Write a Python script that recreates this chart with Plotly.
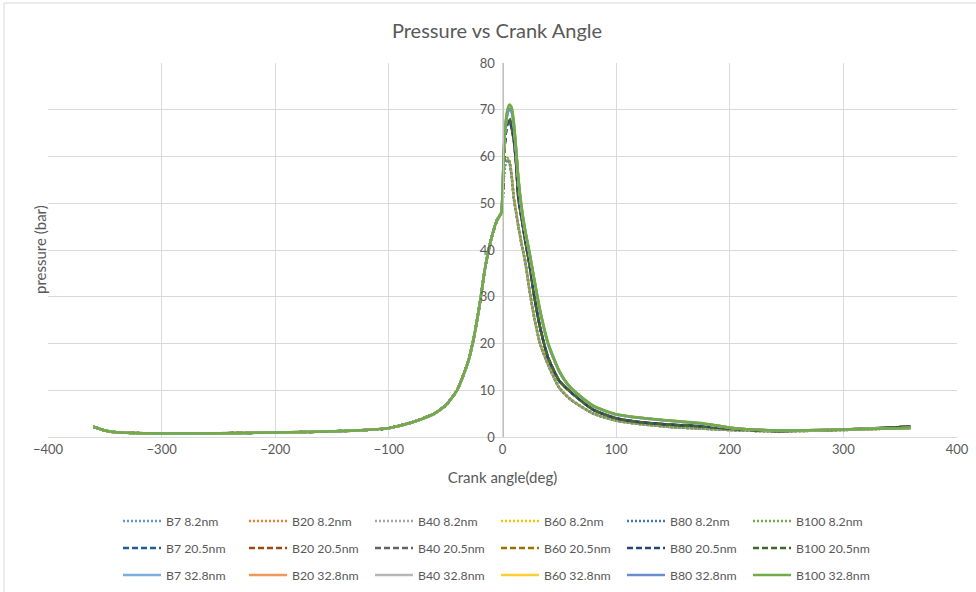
import plotly.graph_objects as go

# ---------------- data ----------------
fuels = ["B7", "B20", "B40", "B60", "B80", "B100"]
sizes = ["8.2nm", "20.5nm", "32.8nm"]

# crank angle grid (deg)
angle_compression = [-360, -350, -340, -300, -250, -200, -150, -120, -100, -80, -60, -50,
                     -40, -30, -25, -20, -15, -10, -5, -2, -1]
angle_expansion = [0, 1, 2, 4, 6, 8, 10, 12, 14, 17, 20, 24, 28, 33, 40, 50, 60, 80, 100,
                   120, 150, 175, 200, 240, 300, 340, 359]

# compression stroke pressure (bar) - common to all blends
p_compression = [2.2, 1.4, 1.0, 0.75, 0.8, 0.95, 1.2, 1.5, 1.9, 3.1, 5.0, 6.8,
                 10.0, 16.3, 21.5, 28.5, 36.6, 42.3, 46.3, 47.5, 48.0]

# expansion stroke pressure (bar), 8.2 nm nanoparticles
p_B7_82   = [50, 55, 57.8, 59.2, 58.7, 55.8, 51, 48, 45, 41, 37.4, 31, 25.4, 20, 15.5, 10.5, 8.0, 5.0, 3.5, 2.8, 2.1, 1.8, 1.5, 1.2, 1.5, 1.8, 1.9]
p_B20_82  = [50, 55, 58.1, 59.6, 59.0, 56.0, 51, 48, 45, 41, 37.5, 31, 25.5, 20, 15.5, 10.5, 8.0, 5.0, 3.5, 2.8, 2.1, 1.8, 1.5, 1.2, 1.5, 1.8, 1.9]
p_B40_82  = [50, 55, 58.0, 59.4, 58.9, 55.9, 51, 48, 45, 41, 37.5, 31, 25.5, 20, 15.5, 10.5, 8.0, 5.0, 3.5, 2.8, 2.1, 1.8, 1.5, 1.2, 1.5, 1.8, 1.9]
p_B60_82  = [50, 55, 58.2, 59.7, 59.1, 56.1, 51, 48, 45, 41, 37.6, 31, 25.6, 20, 15.6, 10.6, 8.0, 5.0, 3.5, 2.8, 2.1, 1.8, 1.5, 1.2, 1.5, 1.8, 1.9]
p_B80_82  = [50, 55, 57.9, 59.3, 58.8, 55.9, 51, 48, 45, 41, 37.4, 31, 25.4, 20, 15.5, 10.5, 8.0, 5.0, 3.5, 2.8, 2.1, 1.8, 1.5, 1.2, 1.5, 1.8, 1.9]
p_B100_82 = [50, 55, 58.2, 59.7, 59.2, 56.2, 51, 48, 45, 41, 37.6, 31, 25.6, 20, 15.6, 10.6, 8.1, 5.0, 3.5, 2.8, 2.1, 1.8, 1.5, 1.2, 1.5, 1.8, 1.9]

# 20.5 nm nanoparticles
p_B7_205   = [51, 58, 62.5, 66.8, 67.6, 66.2, 63.5, 58.5, 51, 46.5, 42, 36.5, 30, 23.5, 17, 12, 9.6, 5.8, 4.0, 3.2, 2.6, 2.3, 1.8, 1.3, 1.6, 2.0, 2.2]
p_B20_205  = [51, 58, 62.8, 67.0, 67.9, 66.4, 63.5, 58.5, 51, 46.5, 42, 36.5, 30, 23.5, 17, 12, 9.6, 5.8, 4.0, 3.2, 2.6, 2.3, 1.8, 1.3, 1.6, 2.0, 2.2]
p_B40_205  = [51, 58, 62.4, 66.6, 67.4, 66.0, 63.3, 58.3, 51, 46.5, 42, 36.5, 30, 23.5, 17, 12, 9.6, 5.8, 4.0, 3.2, 2.6, 2.3, 1.8, 1.3, 1.6, 2.0, 2.3]
p_B60_205  = [51, 58, 63.0, 67.3, 68.1, 66.6, 63.6, 58.6, 51, 46.5, 42, 36.5, 30, 23.5, 17, 12, 9.6, 5.8, 4.0, 3.2, 2.6, 2.3, 1.8, 1.3, 1.6, 2.0, 2.2]
p_B80_205  = [51, 58, 62.6, 66.9, 67.7, 66.3, 63.4, 58.4, 51, 46.5, 42, 36.5, 30, 23.5, 17, 12, 9.6, 5.8, 4.0, 3.2, 2.6, 2.3, 1.8, 1.3, 1.6, 2.0, 2.2]
p_B100_205 = [51, 58, 63.0, 67.4, 68.2, 66.8, 63.8, 58.8, 51.5, 46.8, 42.2, 36.8, 30.2, 23.6, 17.2, 12.1, 9.7, 5.9, 4.0, 3.2, 2.6, 2.3, 1.8, 1.3, 1.6, 2.0, 2.3]

# 32.8 nm nanoparticles
p_B7_328   = [52, 60, 64.5, 68.6, 70.0, 69.5, 66.5, 61, 55, 48.5, 44, 39, 33.5, 27, 20, 14, 10.5, 6.6, 4.8, 4.1, 3.4, 2.9, 2.0, 1.4, 1.6, 1.8, 1.9]
p_B20_328  = [52, 60, 65.0, 69.3, 70.7, 70.1, 66.9, 61.3, 55, 48.5, 44, 39, 33.5, 27, 20, 14, 10.5, 6.6, 4.8, 4.1, 3.4, 2.9, 2.0, 1.4, 1.6, 1.8, 1.9]
p_B40_328  = [52, 60, 64.7, 68.9, 70.3, 69.8, 66.7, 61.2, 55, 48.5, 44, 39, 33.5, 27, 20, 14, 10.5, 6.6, 4.8, 4.1, 3.4, 2.9, 2.0, 1.4, 1.6, 1.8, 1.9]
p_B60_328  = [52, 60, 65.2, 69.5, 71.0, 70.4, 67.1, 61.5, 55.2, 48.7, 44, 39, 33.5, 27, 20, 14, 10.5, 6.6, 4.8, 4.1, 3.4, 2.9, 2.0, 1.4, 1.6, 1.8, 1.9]
p_B80_328  = [52, 60, 64.6, 68.8, 70.2, 69.7, 66.6, 61.1, 55, 48.5, 44, 39, 33.5, 27, 20, 14, 10.5, 6.6, 4.8, 4.1, 3.4, 2.9, 2.0, 1.4, 1.6, 1.8, 1.9]
p_B100_328 = [52, 60.5, 65.3, 69.7, 71.1, 70.6, 67.4, 61.8, 55.5, 49, 44.3, 39.3, 33.8, 27.3, 20.3, 14.2, 10.6, 6.7, 4.9, 4.2, 3.5, 3.0, 2.0, 1.4, 1.6, 1.8, 1.9]

expansion = {
    "8.2nm":  [p_B7_82, p_B20_82, p_B40_82, p_B60_82, p_B80_82, p_B100_82],
    "20.5nm": [p_B7_205, p_B20_205, p_B40_205, p_B60_205, p_B80_205, p_B100_205],
    "32.8nm": [p_B7_328, p_B20_328, p_B40_328, p_B60_328, p_B80_328, p_B100_328],
}

# ---------------- styles ----------------
colors = {
    "8.2nm":  ["#5B9BD5", "#ED7D31", "#A5A5A5", "#FFC000", "#4472C4", "#70AD47"],
    "20.5nm": ["#255E91", "#9E480E", "#636363", "#997300", "#264478", "#43682B"],
    "32.8nm": ["#7CAFDD", "#F1975A", "#B7B7B7", "#FFCD33", "#698ED0", "#70AD47"],
}
dashes = {"8.2nm": "2px,2px", "20.5nm": "6px,3px", "32.8nm": "solid"}
legend_ids = {"8.2nm": "legend", "20.5nm": "legend2", "32.8nm": "legend3"}

FONT = "Lato, 'Open Sans', sans-serif"
TXT = "#595959"

fig = go.Figure()
x_all = angle_compression + angle_expansion
for s in sizes:
    for i, f in enumerate(fuels):
        fig.add_trace(go.Scatter(
            x=x_all, y=p_compression + expansion[s][i],
            mode="lines", name=f"{f} {s}",
            line=dict(color=colors[s][i], dash=dashes[s], width=2.5,
                      shape="spline", smoothing=0.6),
            legend=legend_ids[s],
        ))

W, H = 976, 592
L, R, T, B = 48, 19, 63, 155
ph = H - T - B

def leg(ypix):
    return dict(orientation="h", x=(118 - L) / (W - L - R), xanchor="left",
                y=(H - B - ypix) / ph, yanchor="middle",
                entrywidth=73, entrywidthmode="pixels",
                font=dict(family=FONT, size=12.3, color=TXT),
                bgcolor="rgba(0,0,0,0)", itemwidth=38)

fig.update_layout(
    width=W, height=H,
    margin=dict(l=L, r=R, t=T, b=B, autoexpand=False),
    paper_bgcolor="white", plot_bgcolor="white",
    font=dict(family=FONT, color=TXT),
    title=dict(text="Pressure vs Crank Angle", x=497 / W, xref="container", xanchor="center",
               y=1 - 31 / H, yanchor="middle", yref="container",
               font=dict(family=FONT, size=20, color=TXT)),
    xaxis=dict(range=[-400, 400], dtick=100, showgrid=True, gridcolor="#D9D9D9",
               zeroline=False, showline=True, linecolor="#D9D9D9", ticks="",
               tickfont=dict(family=FONT, size=13, color=TXT),
               title=dict(text="Crank angle(deg)", standoff=16,
                          font=dict(family=FONT, size=15, color=TXT)),
               mirror=False),
    yaxis=dict(range=[0, 80], dtick=10, showgrid=True, gridcolor="#D9D9D9",
               zeroline=False, showline=True, linecolor="#BFBFBF", ticks="",
               anchor="free", position=0.5, ticklabelstandoff=5,
               tickfont=dict(family=FONT, size=13, color=TXT)),
    legend=leg(521), legend2=leg(548), legend3=leg(575),
    showlegend=True,
)

fig.add_annotation(text="pressure (bar)", xref="paper", yref="paper",
                   x=(40 - L) / (W - L - R), y=0.5, xanchor="center", yanchor="middle",
                   textangle=-90, showarrow=False,
                   font=dict(family=FONT, size=15, color=TXT))

# chart border (top and left edges visible in the frame)
fig.add_shape(type="line", xref="paper", yref="paper",
              x0=(4 - L) / (W - L - R), x1=1.05, y0=1 + (T - 3) / ph, y1=1 + (T - 3) / ph,
              line=dict(color="#D9D9D9", width=1))
fig.add_shape(type="line", xref="paper", yref="paper",
              x0=(4 - L) / (W - L - R), x1=(4 - L) / (W - L - R), y0=1 + (T - 3) / ph, y1=-0.5,
              line=dict(color="#D9D9D9", width=1))

fig.write_html("out.html")
